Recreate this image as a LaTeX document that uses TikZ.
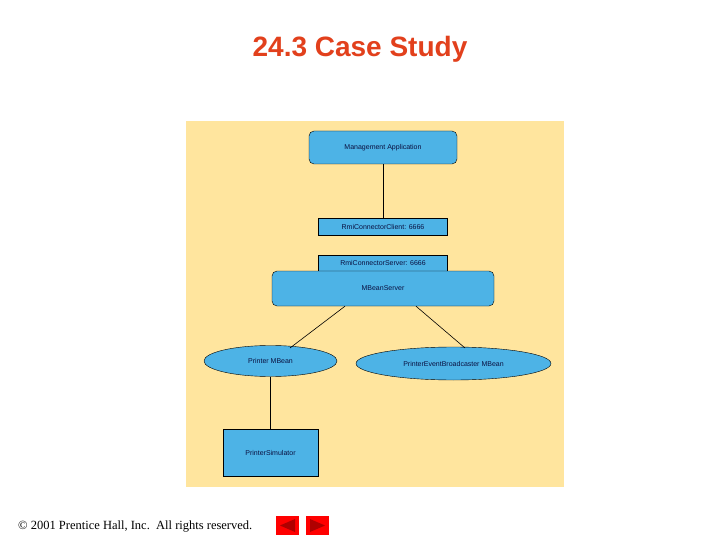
\documentclass[tikz,border=0pt]{standalone}
\usepackage{fontspec}
\setmainfont{Liberation Serif}
\setsansfont{Liberation Sans}
\usetikzlibrary{shapes.geometric}
\definecolor{titlered}{HTML}{E2401C}
\definecolor{bgyellow}{HTML}{FFE59E}
\definecolor{boxblue}{HTML}{4DB3E6}
\definecolor{txtnavy}{HTML}{0A1040}
\definecolor{btnred}{HTML}{FF0000}
\definecolor{btndark}{HTML}{B00000}
\tikzset{
  lbl/.style={font=\sffamily\fontsize{7}{8}\selectfont, text=txtnavy},
  rbox/.style={draw=black, fill=boxblue, rounded corners=5pt, inner sep=0pt, lbl},
  sbox/.style={draw=black, fill=boxblue, inner sep=0pt, lbl},
  ebox/.style={draw=black, fill=boxblue, ellipse, inner sep=0pt, lbl},
  conn/.style={draw=black, line width=0.6pt}
}
\begin{document}
\begin{tikzpicture}[x=1pt,y=-1pt]
\useasboundingbox (0,0) rectangle (720,540);
\fill[white] (0,0) rectangle (720,540);
\node (title) at (360,49) {\sffamily\bfseries\fontsize{28}{32}\selectfont\color{titlered}24.3 Case Study};
\fill[bgyellow] (186,121) rectangle (564,487);
\node[rbox, minimum width=148pt, minimum height=33pt] (app) at (383,147.5) {Management Application};
\node[sbox, minimum width=129pt, minimum height=17pt] (client) at (383,226.5) {RmiConnectorClient: 6666};
\node[sbox, minimum width=129pt, minimum height=16pt] (server) at (383,263) {RmiConnectorServer: 6666};
\node[rbox, minimum width=222pt, minimum height=35pt] (mbs) at (383,288.5) {MBeanServer};
\node[ebox, minimum width=133pt, minimum height=31pt] (pm) at (270.5,361) {Printer MBean};
\node[ebox, minimum width=195pt, minimum height=33pt] (pe) at (453.5,363.5) {PrinterEventBroadcaster MBean};
\node[sbox, minimum width=95pt, minimum height=47pt] (sim) at (270.5,452.5) {PrinterSimulator};
\coordinate (pmtop) at (290,348);
\coordinate (petop) at (465,348);
\draw[conn] (app.south) -- (client.north);
\draw[conn] ([xshift=-38pt]mbs.south) -- (pmtop);
\draw[conn] ([xshift=33pt]mbs.south) -- (petop);
\draw[conn] (pm.south) -- (sim.north);
\node[anchor=west, inner sep=0pt] (foot) at (18,527) {\fontsize{12.5}{14}\selectfont \textcopyright{} 2001 Prentice Hall, Inc.\ \ All rights reserved.};
\fill[btnred] (276,516) rectangle (299,535);
\fill[btndark] (280,525.5) -- (295,519) -- (295,532) -- cycle;
\fill[btnred] (306,516) rectangle (329,535);
\fill[btndark] (325,525.5) -- (310,519) -- (310,532) -- cycle;
\end{tikzpicture}
\end{document}
